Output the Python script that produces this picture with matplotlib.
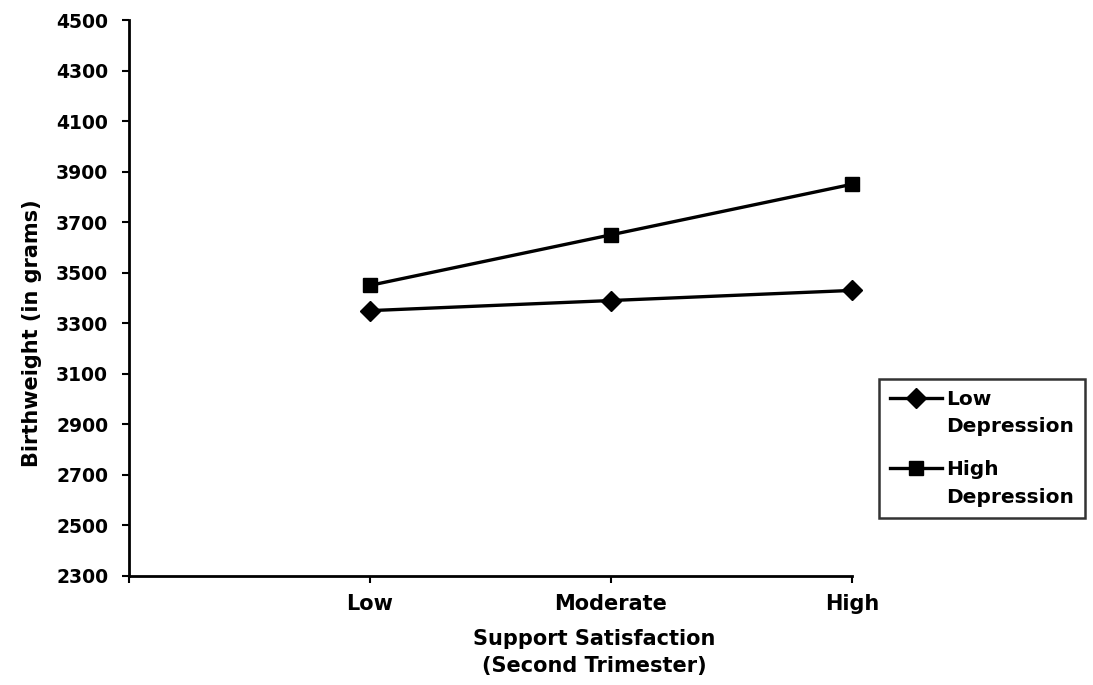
import numpy as np
import matplotlib.pyplot as plt
from matplotlib.legend_handler import HandlerLine2D

# data
categories = ["Low", "Moderate", "High"]
low_depression = [3350, 3390, 3430]
high_depression = [3450, 3650, 3850]
series_labels = ["Low\nDepression", "High\nDepression"]
y_ticks = list(range(2300, 4501, 200))


class FirstLineHandler(HandlerLine2D):
    # put the legend handle next to the first line of a two-line label
    def __init__(self, shift, **kw):
        super().__init__(**kw)
        self.shift = shift

    def create_artists(self, legend, orig_handle, xdescent, ydescent,
                       width, height, fontsize, trans):
        arts = super().create_artists(legend, orig_handle, xdescent, ydescent,
                                      width, height, fontsize, trans)
        for a in arts:
            a.set_ydata(np.asarray(a.get_ydata()) + self.shift)
        return arts


plt.rcParams['font.family'] = ['DejaVu Sans']
plt.rcParams['font.weight'] = 'bold'

fig = plt.figure(figsize=(10.93, 6.85), dpi=100)
ax = fig.add_axes([129/1093, 1 - 576/685, (852-129)/1093, (576-20)/685])

xpos = np.arange(1, len(categories) + 1)
l1, = ax.plot(xpos, low_depression, color='black', lw=2.4, marker='D', ms=10,
              label=series_labels[0], clip_on=False)
l2, = ax.plot(xpos, high_depression, color='black', lw=2.4, marker='s', ms=9.5,
              label=series_labels[1], clip_on=False)

ax.set_xlim(0, len(categories))
ax.set_ylim(y_ticks[0], y_ticks[-1])
ax.set_yticks(y_ticks)
ax.set_xticks(np.arange(0, len(categories) + 1))
ax.set_xticklabels([""] + categories)

for s in ['top', 'right']:
    ax.spines[s].set_visible(False)
for s in ['left', 'bottom']:
    ax.spines[s].set_linewidth(2)

ax.tick_params(axis='both', direction='out', length=5, width=1.5, pad=10)
ax.tick_params(axis='y', labelsize=13.5)
ax.tick_params(axis='x', labelsize=15, pad=8)
for lab in ax.get_xticklabels() + ax.get_yticklabels():
    lab.set_fontweight('bold')

ax.set_ylabel("Birthweight (in grams)", fontsize=15, fontweight='bold')
ax.yaxis.set_label_coords(-0.12, 0.437)
ax.set_xlabel("Support Satisfaction\n(Second Trimester)", fontsize=15,
              fontweight='bold', linespacing=1.45)
ax.xaxis.set_label_coords(0.643, -0.095)
ax.xaxis.label.set_va('top')

leg = fig.legend(handles=[l1, l2], loc='upper left',
                 bbox_to_anchor=(879/1093, 1 - 379/685),
                 fontsize=14.5, frameon=True, fancybox=False, shadow=False,
                 handlelength=2.6, handletextpad=0.2, borderpad=0.55,
                 labelspacing=1.2, borderaxespad=0,
                 handler_map={l1: FirstLineHandler(11.5), l2: FirstLineHandler(11.5)})
leg.get_frame().set_edgecolor('black')
leg.get_frame().set_linewidth(1.8)
for t in leg.get_texts():
    t.set_fontweight('bold')
    t.set_linespacing(1.55)

fig.savefig("out.png", dpi=100)
